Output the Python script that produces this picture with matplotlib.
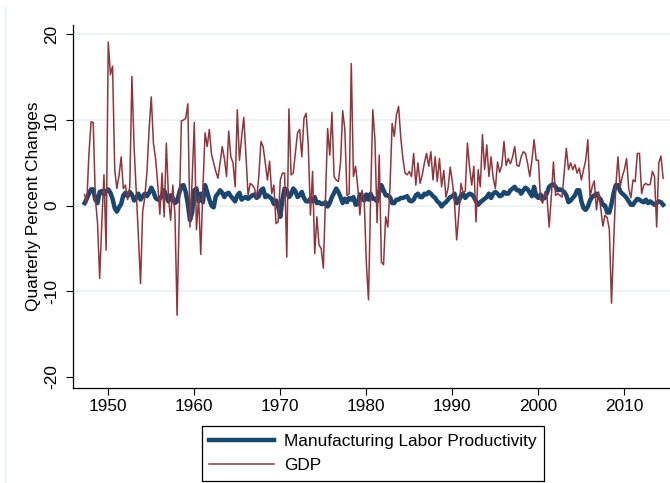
import numpy as np
import matplotlib
matplotlib.use("Agg")
import matplotlib.pyplot as plt
from matplotlib.lines import Line2D

plt.rcParams['font.family'] = ['Liberation Sans', 'DejaVu Sans']

# quarterly series, first observation 1947Q2
start_year = 1947.25

# annualized quarterly percent change in GDP
gdp = [
    1.3, 0.3, 6.0, 9.8, 9.7, 0.8, -2.0, -8.5, -2.0, 3.6, -5.2, 19.1, 15.3, 16.3, 4.2, 2.0,
    3.5, 5.7, 2.0, 2.4, 0.7, 2.2, 15.1, 6.9, 1.8, -3.5, -9.1, -0.7, 1.0, 4.0, 9.0, 12.7, 7.3,
    5.5, 2.5, -1.0, 3.8, -1.3, 7.3, 1.0, -1.7, 2.4, -1.0, -12.8, -1.0, 9.9, 10.0, 10.2, 11.9,
    -2.5, 3.0, 9.7, -2.8, 1.0, -5.7, 2.0, 8.5, 6.9, 8.9, 6.0, 5.0, 4.0, 3.2, 5.0, 6.9, 5.5, 3.4, 8.7,
    5.7, 5.0, 2.2, 11.2, 5.3, 8.0, 10.3, 6.0, 1.2, 2.6, 2.4, 2.0, 0.9, 3.4, 7.5, 6.9, 5.0,
    3.0, 5.2, 1.4, 2.4, -2.1, -1.9, 3.0, 3.8, 3.8, -6.0, 11.3, 3.6, 3.8, 6.1, 8.5, 8.9, 5.7,
    10.2, 10.8, 7.1, -1.1, 4.0, -5.6, -1.3, -4.6, -5.0, -7.3, 1.0, 9.0, 5.9, 10.9, 3.4, 3.0,
    2.8, 5.0, 11.1, 8.9, 1.2, 1.4, 16.6, 3.4, 4.6, 2.2, -1.1, 1.8, 0.7, -6.7, -11.0, 1.0, 11.2, 7.7, -2.0,
    5.9, -6.6, -6.9, -1.3, -2.5, 2.2, 9.6, 8.1, 10.6, 11.6, 8.0, 5.5, 3.8, 3.6, 4.0, 3.4, 6.1,
    2.4, 5.0, 2.6, 3.6, 5.0, 6.1, 4.6, 6.3, 3.0, 5.7, 2.8, 5.5, 2.2, 4.1, 1.0, 2.0, 4.5, 2.8, 0.3,
    -4.0, -1.0, 2.6, 1.5, 1.7, 7.3, 4.5, 2.4, 4.6, -1.9, 4.2, 2.2, 8.3, 4.2, 7.1, 3.4, 5.7,
    3.2, 2.0, 5.1, 3.9, 4.7, 7.5, 4.7, 5.5, 4.9, 5.7, 6.9, 4.7, 4.6, 5.7, 6.3, 6.1, 4.9,
    3.4, 5.3, 7.7, 5.3, 5.3, 0.7, 0.3, 1.6, 1.0, -2.5, 1.0, 5.1, 1.2, 1.4, 1.2, 1.0, 3.8, 6.7,
    4.2, 5.0, 4.2, 4.8, 3.8, 4.4, 3.0, 4.2, 5.3, 7.7, 1.0, 2.2, 2.9, -0.5, 1.6, -0.3, -2.4,
    -1.1, -1.4, -2.8, -11.4, -4.4, 2.2, 5.7, 2.2, 3.4, 4.2, 5.5, 2.0, 0.9, 3.0, 2.8, 6.1, 6.1,
    1.4, 2.4, 2.6, 2.4, 2.5, 4.0, 3.4, -2.5, 5.0, 5.8, 3.2,
]

# quarterly percent change in manufacturing labor productivity
productivity = [
    0.3, 0.8, 1.4, 1.9, 1.9, 0.7, 0.3, 1.6, 1.7, 1.3, 1.7, 1.9, 1.5, 0.8, -0.3, -0.7, -0.2,
    0.2, 1.2, 1.5, 1.1, 1.6, 1.3, 0.6, 0.9, 1.4, 0.7, 1.1, 1.4, 1.1, 1.5, 2.1, 1.6,
    0.9, 0.7, 0.8, 1.2, 1.8, 1.1, 0.5, 1.2, 0.9, 0.3, 0.5, 1.5, 2.3, 2.4, 1.6, 0.2, -1.7,
    -0.8, 1.8, 2.0, 0.5, 1.4, 0.4, 2.4, 1.6, 0.7, 0.0, -0.2, 1.1, 1.4, 1.8, 1.5, 1.0, 1.4, 1.5,
    1.1, 0.8, 0.5, 1.2, 1.5, 0.7, 0.9, 1.0, 0.8, 1.0, 1.2, 1.3, 0.9, 1.1, 1.8, 2.0, 1.0,
    1.2, 1.0, 0.8, 0.2, 0.6, -0.1, -1.3, 0.8, 2.0, 1.8, 1.0, 1.3, 2.0, 1.7, 1.0, 1.2, 1.6,
    0.9, 0.5, 0.5, 0.8, 0.5, 1.0, 0.3, 0.4, 0.2, 0.2, 0.4, -0.1, 0.3, 1.0, 1.5, 2.0, 1.6,
    1.0, 0.3, 0.8, 0.4, 0.9, 0.7, 1.0, 0.1, 0.2, 1.3, 0.9, 0.6, 1.3, 0.7, 1.4, 0.8, 0.8, 0.5,
    1.6, 2.4, 1.8, 1.2, 1.2, 1.0, 0.3, 0.3, 0.7, 0.7, 0.9, 0.9, 1.0, 1.1, 0.6, 0.5, 0.7, 1.2,
    1.4, 1.0, 1.0, 1.4, 1.3, 1.6, 1.4, 1.1, 0.9, 0.5, 0.3, -0.1, 0.2, 0.4, 0.7, 1.0, 1.1, 1.4,
    0.3, 0.5, 1.2, 1.4, 0.9, 1.2, 1.4, 1.3, 1.0, 0.5, 0.1, 0.4, 0.6, 0.8, 1.0, 1.4, 0.9,
    1.4, 1.6, 1.4, 1.1, 1.2, 1.6, 1.4, 1.4, 1.8, 2.0, 2.2, 1.8, 1.8, 1.4, 1.8, 2.1, 1.9,
    1.5, 1.1, 2.2, 1.1, 0.9, 1.3, 0.8, 0.9, 1.5, 2.2, 2.4, 2.5, 2.2, 1.8, 1.9, 1.8, 1.6, 1.2,
    0.4, 0.6, 0.9, 1.2, 1.8, 1.8, 0.5, -0.3, -0.5, -0.1, 0.6, 1.0, 1.2, 1.4, 1.0, 0.7, 0.1,
    0.0, -0.8, -0.8, 0.2, 1.5, 2.4, 2.4, 1.7, 1.4, 1.2, 0.9, 0.5, 0.1, 0.1, 0.5, 0.8, 0.7,
    0.5, 0.4, 0.7, 0.3, 0.5, 0.3, 0.1, 0.3, 0.5, 0.4, 0.1,
]

x_ticks = [1950, 1960, 1970, 1980, 1990, 2000, 2010]
y_ticks = [-20, -10, 0, 10, 20]

dates = start_year + 0.25 * np.arange(len(gdp))

navy = '#1a476f'
cranberry = '#90353b'

fig = plt.figure(figsize=(6.70, 4.83), dpi=100)
fig.patch.set_facecolor('white')

# faint outline of the graph region
fig.add_artist(Line2D([4.5 / 670, 4.5 / 670], [0, 1 - 7 / 483], color='#e6edf0', lw=1))

ax = fig.add_axes([73 / 670, 1 - 388 / 483, 1 - 73 / 670, (388 - 25) / 483])

for v in [-10, 0, 10, 20]:
    ax.axhline(v, color='#eaf2f3', lw=1.2, zorder=0)

ax.plot(dates, productivity, color=navy, lw=3.2, solid_joinstyle='round', zorder=2)
ax.plot(dates, gdp, color=cranberry, lw=1.1, zorder=3)

ax.set_xlim(1945.9, 2015.3)
ax.set_ylim(-21.3, 21.1)

ax.set_xticks(x_ticks)
ax.set_yticks(y_ticks)
ax.set_yticklabels([str(v) for v in y_ticks], rotation=90, va='center')

ax.tick_params(axis='both', direction='out', length=5, width=0.8, colors='black', labelsize=12.4)
ax.tick_params(axis='x', pad=3)
ax.tick_params(axis='y', pad=5)

for side in ['top', 'right']:
    ax.spines[side].set_visible(False)
for side in ['left', 'bottom']:
    ax.spines[side].set_color('black')
    ax.spines[side].set_linewidth(0.9)

ax.set_ylabel('Quarterly Percent Changes', fontsize=12.4, labelpad=2)

handles = [
    Line2D([], [], color=navy, lw=3.2),
    Line2D([], [], color=cranberry, lw=1.1),
]
leg = fig.legend(handles, ['Manufacturing Labor Productivity', 'GDP'],
                 loc='center', bbox_to_anchor=(373 / 670, 1 - 453.5 / 483),
                 fontsize=12.4, frameon=True, fancybox=False, framealpha=1,
                 handlelength=3.75, handletextpad=0.6, borderpad=0.45,
                 labelspacing=0.53, borderaxespad=0)
leg.get_frame().set_edgecolor('black')
leg.get_frame().set_linewidth(0.9)

fig.savefig('out.png', dpi=100, facecolor='white')
